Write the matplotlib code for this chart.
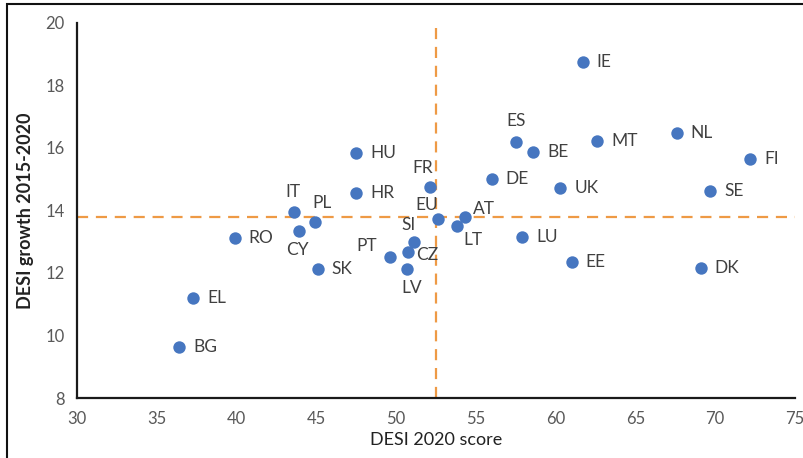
import matplotlib.pyplot as plt
from matplotlib.patches import Rectangle

# DESI 2020 score vs growth 2015-2020
countries = ['HU', 'HR', 'IT', 'PL', 'IE', 'ES', 'BE', 'MT', 'NL', 'FI',
             'FR', 'DE', 'UK', 'SE', 'EU', 'AT', 'LT', 'SI', 'CZ', 'PT',
             'LV', 'RO', 'CY', 'SK', 'EL', 'BG', 'LU', 'EE', 'DK']
score = [47.5, 47.5, 43.6, 44.9, 61.7, 57.5, 58.6, 62.6, 67.6, 72.2,
         52.1, 56.0, 60.3, 69.7, 52.6, 54.3, 53.8, 51.1, 50.75, 49.6,
         50.7, 39.9, 43.9, 45.1, 37.3, 36.4, 57.9, 61.0, 69.1]
growth = [15.84, 14.56, 13.95, 13.63, 18.75, 16.19, 15.87, 16.22, 16.48, 15.65,
          14.75, 15.0, 14.72, 14.62, 13.73, 13.79, 13.50, 13.0, 12.67, 12.51,
          12.13, 13.12, 13.34, 12.13, 11.2, 9.63, 13.15, 12.35, 12.16]

eu_score = 52.5
eu_growth = 13.78

# label placement in points (dx, dy, ha, va)
label_pos = {
    'IT': (-1, 9, 'center', 'bottom'),
    'PL': (5, 8, 'center', 'bottom'),
    'ES': (0, 9, 'center', 'bottom'),
    'FR': (-5, 8, 'center', 'bottom'),
    'EU': (-8, 4, 'center', 'bottom'),
    'AT': (6, 0, 'left', 'bottom'),
    'SI': (-4, 6, 'center', 'bottom'),
    'CZ': (6, -2, 'left', 'center'),
    'LV': (3, -8, 'center', 'top'),
    'PT': (-9, 2, 'right', 'bottom'),
    'CY': (-1, -8, 'center', 'top'),
    'LT': (5, -4, 'left', 'top'),
}

plt.rcParams['font.family'] = ['Lato', 'DejaVu Sans']

fig = plt.figure(figsize=(8.04, 4.58), dpi=100)
ax = fig.add_axes([0.0958, 0.131, 0.893, 0.819])

ax.axvline(eu_score, color='#EE9A45', lw=1.6, dashes=(5, 3.5), zorder=1)
ax.axhline(eu_growth, color='#EE9A45', lw=1.6, dashes=(5, 3.5), zorder=1)
ax.scatter(score, growth, s=80, color='#4676C0', zorder=3, linewidths=0)

for c, x, y in zip(countries, score, growth):
    dx, dy, ha, va = label_pos.get(c, (10, 0, 'left', 'center'))
    ax.annotate(c, (x, y), xytext=(dx, dy), textcoords='offset points',
                ha=ha, va=va, fontsize=12.5, color='#404040', zorder=4)

ax.set_xlim(30, 75)
ax.set_ylim(8, 20)
ax.set_xticks(range(30, 76, 5))
ax.set_yticks(range(8, 21, 2))
ax.tick_params(length=0, labelsize=12, labelcolor='#595959', pad=9)
for s in ['top', 'right']:
    ax.spines[s].set_visible(False)
for s in ['left', 'bottom']:
    ax.spines[s].set_linewidth(1.6)
    ax.spines[s].set_color('#1a1a1a')

ax.set_xlabel('DESI 2020 score', fontsize=13, color='#222222', labelpad=4)
ax.set_ylabel('DESI growth 2015-2020', fontsize=13, color='#222222',
              fontweight='bold', labelpad=8)

fig.patches.append(Rectangle((7 / 804, -0.02), 1.1, 1 - 4 / 458 + 0.02,
                             transform=fig.transFigure, fill=False,
                             edgecolor='#111111', lw=1.5))

fig.savefig('out.png', dpi=100)
